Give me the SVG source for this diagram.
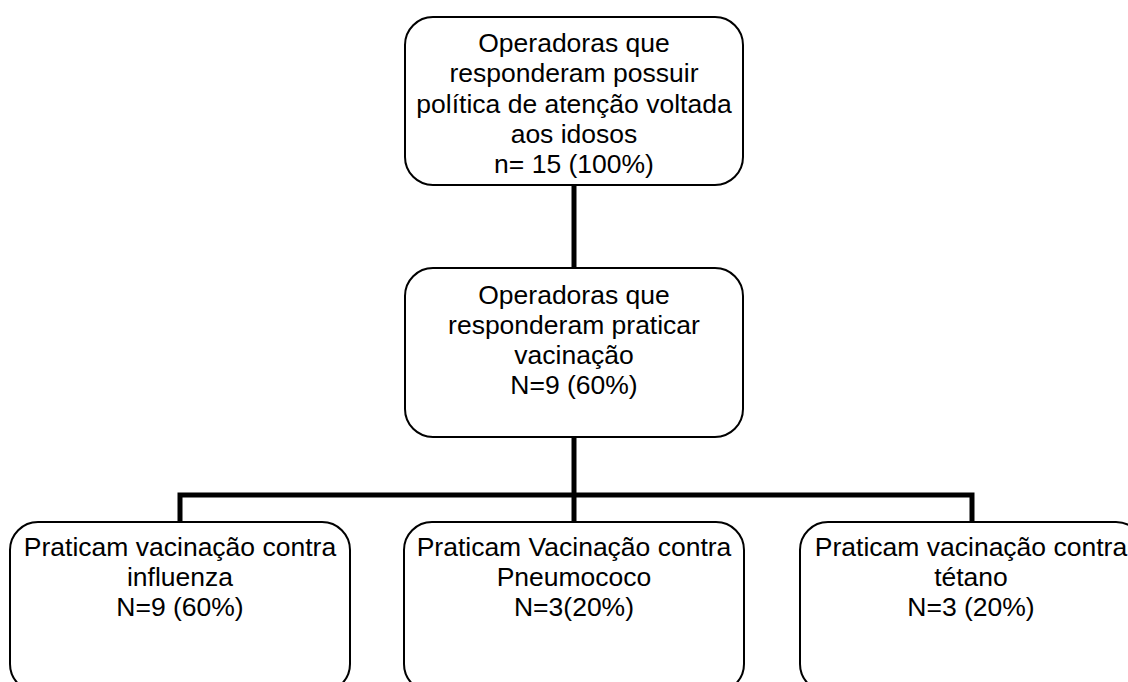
<svg xmlns="http://www.w3.org/2000/svg" width="1128" height="682" viewBox="0 0 1128 682">
  <style>
    .box { fill: #ffffff; stroke: #000000; stroke-width: 2; }
    .link { fill: none; stroke: #000000; stroke-width: 5; }
    text { font-family: "Liberation Sans", Arial, sans-serif; font-size: 26.5px; fill: #000000; text-anchor: middle; }
  </style>
  <rect width="1128" height="682" fill="#ffffff"/>

  <!-- connectors -->
  <g id="connectors">
    <line class="link" x1="574" y1="185" x2="574" y2="268"/>
    <line class="link" x1="574" y1="437" x2="574" y2="522"/>
    <polyline class="link" points="180,522 180,495 972,495 972,522"/>
  </g>

  <g id="node-politica">
    <rect class="box" x="405" y="17" width="338" height="168" rx="28" ry="28"/>
    <text x="574" y="52">Operadoras que</text>
    <text x="574" y="82">responderam possuir</text>
    <text x="574" y="113">política de atenção voltada</text>
    <text x="574" y="143">aos idosos</text>
    <text x="574" y="173">n= 15 (100%)</text>
  </g>

  <g id="node-vacinacao">
    <rect class="box" x="405" y="268" width="338" height="169" rx="28" ry="28"/>
    <text x="574" y="304">Operadoras que</text>
    <text x="574" y="334">responderam praticar</text>
    <text x="574" y="364">vacinação</text>
    <text x="574" y="394">N=9 (60%)</text>
  </g>

  <g id="node-influenza">
    <rect class="box" x="10" y="522" width="340" height="170" rx="28" ry="28"/>
    <text x="180" y="556">Praticam vacinação contra</text>
    <text x="180" y="586">influenza</text>
    <text x="180" y="616">N=9 (60%)</text>
  </g>

  <g id="node-pneumococo">
    <rect class="box" x="404" y="522" width="340" height="170" rx="28" ry="28"/>
    <text x="574" y="556">Praticam Vacinação contra</text>
    <text x="574" y="586">Pneumococo</text>
    <text x="574" y="616">N=3(20%)</text>
  </g>

  <g id="node-tetano">
    <rect class="box" x="800" y="522" width="344" height="170" rx="28" ry="28"/>
    <text x="971" y="556">Praticam vacinação contra</text>
    <text x="971" y="586">tétano</text>
    <text x="971" y="616">N=3 (20%)</text>
  </g>
</svg>
